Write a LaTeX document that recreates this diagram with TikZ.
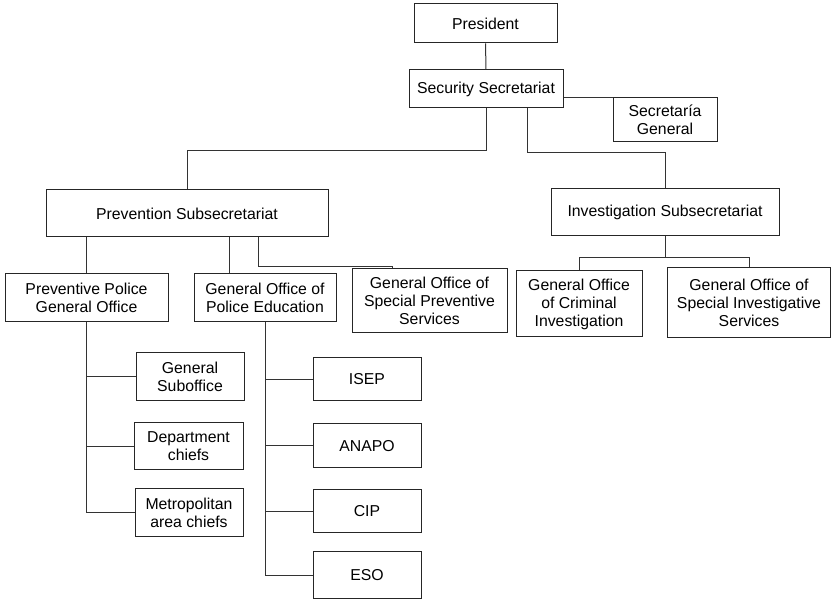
\documentclass[tikz,border=0pt]{standalone}
\usepackage{fontspec}
\setmainfont{Liberation Sans}
\begin{document}
\begin{tikzpicture}[x=1pt,y=-1pt,
  org/.style={draw=black!85,line width=1pt,align=center,inner sep=0pt,font=\fontsize{15.8}{18}\selectfont},
  link/.style={draw=black!80,line width=1pt}]
 \useasboundingbox (0,0) rectangle (831,601);
 % top of the chart
 \node[org,minimum width=143pt,minimum height=39pt] (pres) at (485.5,23.5) {President};
 \node[org,minimum width=154pt,minimum height=38pt] (sec) at (486,89) {Security Secretariat};
 \node[org,minimum width=104pt,minimum height=44pt] (sg) at (665,120) {Secretaría\\General};
 \node[org,minimum width=282pt,minimum height=47pt] (prev) at (187,213.5) {Prevention Subsecretariat};
 \node[org,minimum width=228pt,minimum height=47pt] (inv) at (665,212.5) {Investigation Subsecretariat};
 % general offices
 \node[org,minimum width=163pt,minimum height=48pt] (ppgo) at (86.5,298) {Preventive Police\\General Office};
 \node[org,minimum width=142pt,minimum height=48pt] (gope) at (265,298) {General Office of\\Police Education};
 \node[org,minimum width=155pt,minimum height=64pt] (gosps) at (429.5,301) {General Office of\\Special Preventive\\Services};
 \node[org,minimum width=126pt,minimum height=66pt] (goci) at (579,304) {General Office\\of Criminal\\Investigation};
 \node[org,minimum width=163pt,minimum height=70pt] (gosis) at (749,303) {General Office of\\Special Investigative\\Services};
 % lower units
 \node[org,minimum width=108pt,minimum height=48pt] (gsub) at (190,377) {General\\Suboffice};
 \node[org,minimum width=109pt,minimum height=47pt] (dept) at (188.5,446.5) {Department\\chiefs};
 \node[org,minimum width=108pt,minimum height=48pt] (metro) at (189,513) {Metropolitan\\area chiefs};
 \node[org,minimum width=108pt,minimum height=43pt] (isep) at (367,379.5) {ISEP};
 \node[org,minimum width=108pt,minimum height=44pt] (anapo) at (367,446) {ANAPO};
 \node[org,minimum width=108pt,minimum height=43pt] (cip) at (367,511.5) {CIP};
 \node[org,minimum width=108pt,minimum height=47pt] (eso) at (367,575.5) {ESO};
 % connectors
 \draw[link] (pres) -- (sec);
 \draw[link] (sec.south) -- ++(0,42) -| (prev.north);
 \draw[link] ([xshift=41pt]sec.south) -- ++(0,44) -| (inv.north);
 \draw[link] (sec.east |- sg.north) -- (sg.north west);
 \draw[link] (prev.south -| ppgo.north) -- (ppgo.north);
 \draw[link] ([xshift=42pt]prev.south) -- ([xshift=42pt]prev.south |- gope.north);
 \draw[link] ([xshift=71pt]prev.south) -- ++(0,29) -| ([xshift=-37.5pt]gosps.north);
 \draw[link] (inv.south) -- ++(0,21) -| (goci.north);
 \draw[link] (inv.south) -- ++(0,21) -| (gosis.north);
 \draw[link] (ppgo.south) -- (ppgo.south |- metro.west) -- (metro.west);
 \foreach \u in {gsub,dept}
  \draw[link] (ppgo.south |- \u.west) -- (\u.west);
 \draw[link] (gope.south) -- (gope.south |- eso.west) -- (eso.west);
 \foreach \u in {isep,anapo,cip}
  \draw[link] (gope.south |- \u.west) -- (\u.west);
\end{tikzpicture}
\end{document}
